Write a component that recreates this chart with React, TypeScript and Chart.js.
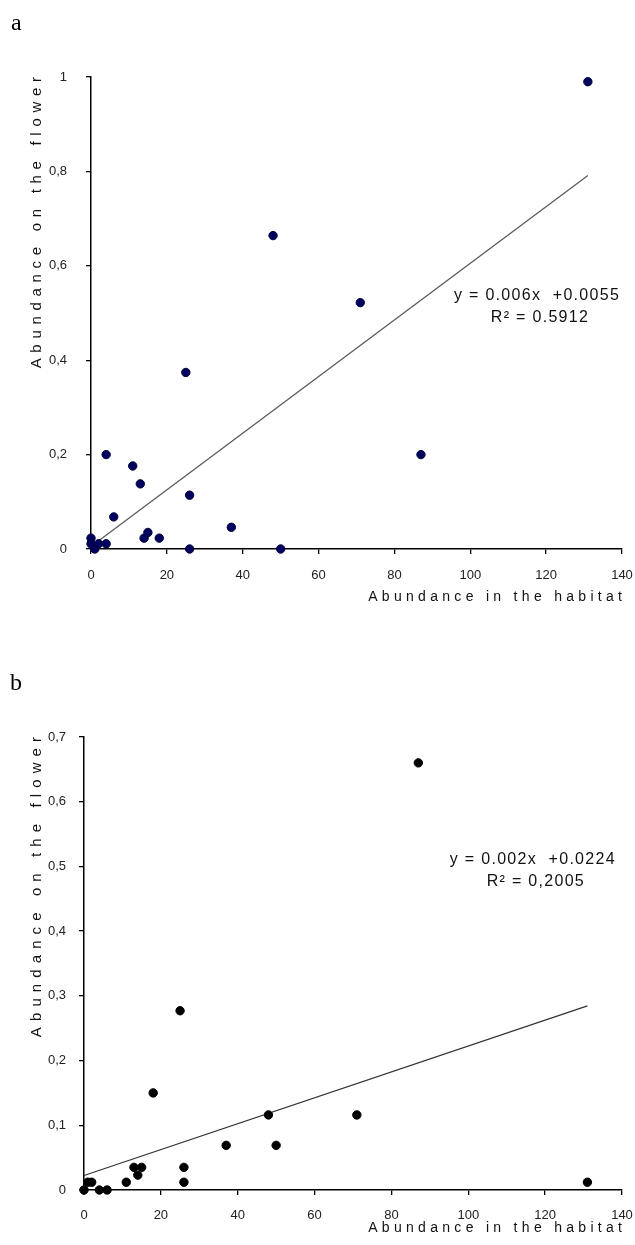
import React, { useEffect, useRef } from 'react';
import { Chart, registerables } from 'chart.js';

Chart.register(...registerables);

// ---- Panel a data ----
const habitatA = [0, 0, 1, 2, 4, 4, 6, 11, 13, 14, 15, 18, 25, 26, 26, 37, 48, 50, 71, 87, 131];
const flowerA = [0.023, 0.011, 0, 0.011, 0.011, 0.2, 0.068, 0.176, 0.138, 0.023, 0.035, 0.023, 0.374, 0.114, 0, 0.046, 0.664, 0, 0.522, 0.2, 0.99];
const slopeA = 0.006;
const interceptA = 0.0055;
const equationA = ['y = 0.006x  +0.0055', 'R\u00B2 = 0.5912'];
const yTicksA = ['0', '0,2', '0,4', '0,6', '0,8', '1'];

// ---- Panel b data ----
const habitatB = [0, 1, 2, 4, 6, 11, 13, 14, 15, 18, 25, 26, 26, 37, 48, 50, 71, 87, 131];
const flowerB = [0, 0.012, 0.012, 0, 0, 0.012, 0.035, 0.023, 0.035, 0.15, 0.277, 0.035, 0.012, 0.069, 0.116, 0.069, 0.116, 0.66, 0.012];
const slopeB = 0.002;
const interceptB = 0.0224;
const equationB = ['y = 0.002x  +0.0224', 'R\u00B2 = 0,2005'];
const yTicksB = ['0', '0,1', '0,2', '0,3', '0,4', '0,5', '0,6', '0,7'];

const xTicks = ['0', '20', '40', '60', '80', '100', '120', '140'];
const trendRange = [0, 131];
const xTitle = 'Abundance in the habitat';
const yTitle = 'Abundance on the flower';

type Panel = {
  letter: string;
  xs: number[];
  ys: number[];
  slope: number;
  intercept: number;
  equation: string[];
  eqAt: [number, number];
  yMax: number;
  yStep: number;
  yTicks: string[];
  height: number;
  padTop: number;
  yAxisWidth: number;
  xAxisHeight: number;
  yTickPad: number;
  xTickPad: number;
  pointColor: string;
  pointBorder: string;
  lineColor: string;
  letterPos: [number, number];
  xTitleOff: number;
  ySpacing: number;
};

const panels: Panel[] = [
  {
    letter: 'a', xs: habitatA, ys: flowerA, slope: slopeA, intercept: interceptA,
    equation: equationA, eqAt: [117.6, 0.536], yMax: 1, yStep: 0.2, yTicks: yTicksA,
    height: 620, padTop: 77, yAxisWidth: 91, xAxisHeight: 71, yTickPad: 19, xTickPad: 14,
    pointColor: '#00005e', pointBorder: '#00003a', lineColor: '#5a5a5a',
    letterPos: [11, 30], xTitleOff: 48, ySpacing: 5.7,
  },
  {
    letter: 'b', xs: habitatB, ys: flowerB, slope: slopeB, intercept: interceptB,
    equation: equationB, eqAt: [116.8, 0.511], yMax: 0.7, yStep: 0.1, yTicks: yTicksB,
    height: 625, padTop: 117, yAxisWidth: 84, xAxisHeight: 55, yTickPad: 13, xTickPad: 13,
    pointColor: '#000000', pointBorder: '#000000', lineColor: '#333333',
    letterPos: [10, 70], xTitleOff: 38, ySpacing: 6.1,
  },
];

function makePlugin(p: Panel) {
  return {
    id: 'annot_' + p.letter,
    afterDraw(chart: any) {
      const ctx = chart.ctx as CanvasRenderingContext2D;
      const { top, bottom, right } = chart.chartArea;
      const sx = chart.scales.x;
      const sy = chart.scales.y;
      ctx.save();
      ctx.fillStyle = '#000';
      ctx.font = '24px "Liberation Serif"';
      ctx.textAlign = 'left';
      ctx.textBaseline = 'alphabetic';
      ctx.fillText(p.letter, p.letterPos[0], p.letterPos[1]);

      ctx.fillStyle = '#111';
      ctx.textBaseline = 'middle';
      ctx.textAlign = 'right';

      const spX = 4.3;
      ctx.font = '14px "Liberation Sans"';
      (ctx as any).letterSpacing = spX + 'px';
      ctx.fillText(xTitle, right + spX, bottom + p.xTitleOff);

      const spY = p.ySpacing;
      ctx.font = '15px "Liberation Sans"';
      (ctx as any).letterSpacing = spY + 'px';
      ctx.save();
      ctx.translate(37, top);
      ctx.rotate(-Math.PI / 2);
      ctx.fillText(yTitle, spY, 0);
      ctx.restore();

      (ctx as any).letterSpacing = '1.3px';
      ctx.font = '16px "Liberation Sans"';
      ctx.textAlign = 'center';
      const ex = sx.getPixelForValue(p.eqAt[0]);
      const ey = sy.getPixelForValue(p.eqAt[1]);
      ctx.fillText(p.equation[0], ex, ey);
      ctx.fillText(p.equation[1], ex + 3, ey + 22);
      ctx.restore();
    },
  };
}

function makeConfig(p: Panel): any {
  const pts = p.xs.map((x, i) => ({ x, y: p.ys[i] }));
  const trend = trendRange.map((x) => ({ x, y: p.slope * x + p.intercept }));
  return {
    type: 'scatter',
    data: {
      datasets: [
        {
          type: 'line',
          data: trend,
          borderColor: p.lineColor,
          borderWidth: 1.3,
          pointRadius: 0,
          fill: false,
          clip: false,
          order: 2,
        },
        {
          data: pts,
          backgroundColor: p.pointColor,
          borderColor: p.pointBorder,
          borderWidth: 1,
          pointRadius: 4.2,
          clip: false,
          order: 1,
        },
      ],
    },
    options: {
      responsive: false,
      animation: false,
      events: [],
      layout: { padding: { top: p.padTop, right: 13, left: 0, bottom: 0 } },
      plugins: { legend: { display: false }, tooltip: { enabled: false }, title: { display: false } },
      scales: {
        x: {
          type: 'linear',
          min: 0,
          max: 140,
          afterFit: (s: any) => { s.height = p.xAxisHeight; s.paddingLeft = 0; s.paddingRight = 0; },
          afterBuildTicks: (s: any) => { s.ticks = xTicks.map((_, i) => ({ value: i * 20 })); },
          ticks: {
            callback: (_v: any, i: number) => xTicks[i],
            font: { family: '"Liberation Sans"', size: 13 },
            color: '#222',
            padding: p.xTickPad,
            maxRotation: 0,
          },
          grid: { drawOnChartArea: false, drawTicks: true, tickLength: 5, color: '#000', lineWidth: 1.3 },
          border: { display: true, color: '#000', width: 1.5 },
        },
        y: {
          type: 'linear',
          min: 0,
          max: p.yMax,
          afterFit: (s: any) => { s.width = p.yAxisWidth; s.paddingTop = 0; s.paddingBottom = 0; },
          afterBuildTicks: (s: any) => { s.ticks = p.yTicks.map((_, i) => ({ value: i * p.yStep })); },
          ticks: {
            callback: (_v: any, i: number) => p.yTicks[i],
            font: { family: '"Liberation Sans"', size: 13 },
            color: '#222',
            padding: p.yTickPad,
          },
          grid: { drawOnChartArea: false, drawTicks: true, tickLength: 5, color: '#000', lineWidth: 1.3 },
          border: { display: true, color: '#000', width: 1.5 },
        },
      },
    },
    plugins: [makePlugin(p)],
  };
}

function PanelChart({ panel }: { panel: Panel }) {
  const ref = useRef<HTMLCanvasElement | null>(null);
  useEffect(() => {
    if (!ref.current) return;
    const chart = new Chart(ref.current, makeConfig(panel));
    return () => chart.destroy();
  }, [panel]);
  return (
    <canvas ref={ref} width={635} height={panel.height} style={{ display: 'block', width: 635, height: panel.height }} />
  );
}

export default function App() {
  return (
    <div style={{ position: 'absolute', left: 0, top: 0, width: 635, height: 1245, background: '#fff' }}>
      {panels.map((p) => (
        <PanelChart key={p.letter} panel={p} />
      ))}
    </div>
  );
}
